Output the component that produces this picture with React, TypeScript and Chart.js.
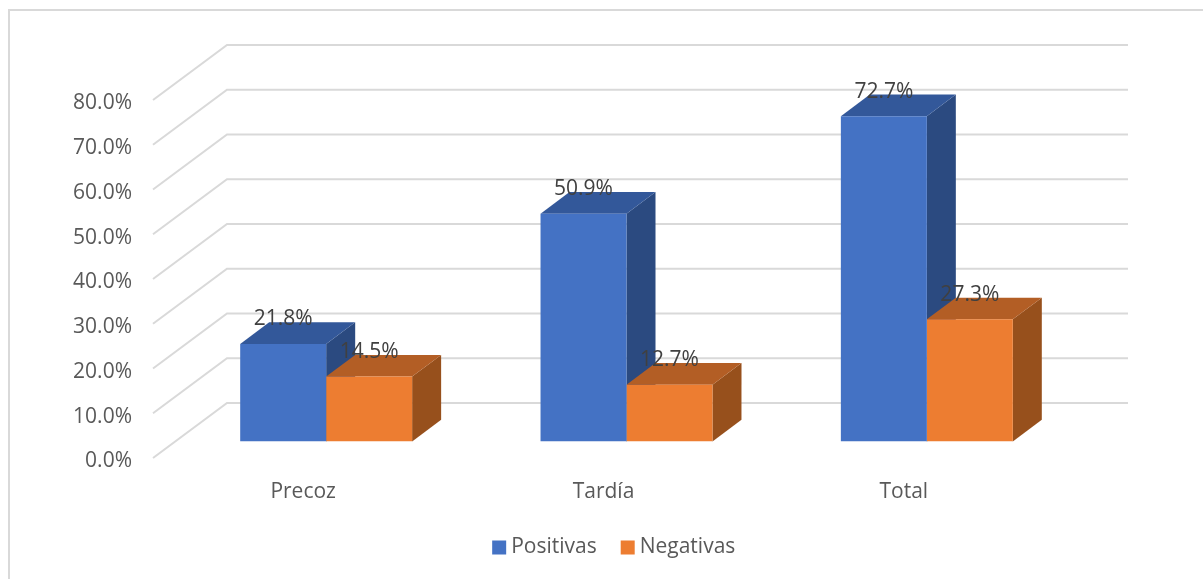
import React, { useEffect, useRef } from "react";
import { Chart, registerables } from "chart.js";

Chart.register(...registerables);

const categories = ["Precoz", "Tardía", "Total"];
const positivas = [21.8, 50.9, 72.7];
const negativas = [14.5, 12.7, 27.3];
const seriesNames = ["Positivas", "Negativas"];

const FONT = "'Open Sans', sans-serif";
const FONT_SIZE = 21;
const GRID = "#D9D9D9";
const faces = [
  { front: "#4472C4", side: "#2B4A80", top: "#33589A" },
  { front: "#ED7D31", side: "#97501C", top: "#B35E25" },
];

// 3D offsets
const WALL_DX = 51, WALL_DY = -38.5, FLOOR_DX = -23, FLOOR_DY = 16.5;
const BAR_DX = 29, BAR_DY = -21.7;
const LEGEND_SHIFT = 48;

const threeD = {
  id: "threeD",
  afterLayout(chart: any) {
    chart.legend.left += LEGEND_SHIFT;
    chart.legend.right += LEGEND_SHIFT;
  },
  beforeDraw(chart: any) {
    const { ctx, width, height } = chart;
    ctx.save();
    ctx.fillStyle = "#fff";
    ctx.fillRect(0, 0, width, height);
    ctx.strokeStyle = GRID;
    ctx.lineWidth = 2;
    ctx.strokeRect(9, 10, width + 20, height + 20);
    ctx.restore();
  },
  beforeDatasetsDraw(chart: any) {
    const { ctx, chartArea, scales } = chart;
    const y = scales.y;
    ctx.save();
    ctx.strokeStyle = GRID;
    ctx.lineWidth = 2;
    ctx.lineJoin = "miter";
    for (const t of y.ticks) {
      const p = y.getPixelForValue(t.value);
      ctx.beginPath();
      ctx.moveTo(chartArea.left + FLOOR_DX, p + FLOOR_DY);
      ctx.lineTo(chartArea.left + WALL_DX, p + WALL_DY);
      ctx.lineTo(chartArea.right + WALL_DX, p + WALL_DY);
      ctx.stroke();
    }
    categories.forEach((_, i) => {
      chart.data.datasets.forEach((_d: any, ds: number) => {
        const b = chart.getDatasetMeta(ds).data[i];
        const hw = b.width / 2;
        const l = b.x - hw, r = b.x + hw, top = b.y, bot = b.base;
        ctx.fillStyle = faces[ds].side;
        ctx.beginPath();
        ctx.moveTo(r, top);
        ctx.lineTo(r + BAR_DX, top + BAR_DY);
        ctx.lineTo(r + BAR_DX, bot + BAR_DY);
        ctx.lineTo(r, bot);
        ctx.closePath();
        ctx.fill();
        ctx.fillStyle = faces[ds].top;
        ctx.beginPath();
        ctx.moveTo(l, top);
        ctx.lineTo(l + BAR_DX, top + BAR_DY);
        ctx.lineTo(r + BAR_DX, top + BAR_DY);
        ctx.lineTo(r, top);
        ctx.closePath();
        ctx.fill();
      });
    });
    ctx.restore();
  },
  afterDatasetsDraw(chart: any) {
    const { ctx } = chart;
    ctx.save();
    ctx.fillStyle = "#404040";
    ctx.font = `${FONT_SIZE}px ${FONT}`;
    ctx.textAlign = "center";
    ctx.textBaseline = "middle";
    chart.data.datasets.forEach((d: any, ds: number) => {
      chart.getDatasetMeta(ds).data.forEach((b: any, i: number) => {
        ctx.fillText(d.data[i].toFixed(1) + "%", b.x, b.y - 24.5);
      });
    });
    ctx.restore();
  },
};

export default function App() {
  const ref = useRef<HTMLCanvasElement>(null);
  useEffect(() => {
    const chart = new Chart(ref.current as HTMLCanvasElement, {
      type: "bar",
      data: {
        labels: categories,
        datasets: [
          { label: seriesNames[0], data: positivas, backgroundColor: faces[0].front, borderWidth: 0, barPercentage: 1, categoryPercentage: 0.5725 },
          { label: seriesNames[1], data: negativas, backgroundColor: faces[1].front, borderWidth: 0, barPercentage: 1, categoryPercentage: 0.5725 },
        ],
      },
      options: {
        responsive: false,
        animation: false,
        layout: { padding: { top: 83.5, left: 60, right: 126, bottom: 11 } },
        plugins: {
          tooltip: { enabled: false },
          legend: {
            position: "bottom",
            labels: {
              usePointStyle: true,
              pointStyle: "rect",
              boxWidth: 3,
              boxHeight: 14,
              padding: 29.5,
              color: "#595959",
              font: { family: FONT, size: FONT_SIZE },
            },
          },
        },
        scales: {
          x: {
            grid: { display: false },
            border: { display: false },
            ticks: { color: "#595959", font: { family: FONT, size: FONT_SIZE }, labelOffset: -23, padding: 29.5, maxRotation: 0 },
            afterFit: (s: any) => { s.height = 66; },
          },
          y: {
            min: 0,
            max: 80,
            grid: { display: false, drawTicks: false },
            border: { display: false },
            ticks: {
              stepSize: 10,
              color: "#595959",
              font: { family: FONT, size: FONT_SIZE },
              labelOffset: 20,
              padding: 44,
              callback: (v: any) => Number(v).toFixed(1) + "%",
            },
            afterFit: (s: any) => { s.width = 116; },
          },
        },
      },
      plugins: [threeD],
    } as any);
    return () => chart.destroy();
  }, []);
  return (
    <div style={{ position: "absolute", left: 0, top: 0, width: 1203, height: 579, overflow: "hidden", background: "#fff" }}>
      <canvas ref={ref} width={1203} height={579} style={{ display: "block" }} />
    </div>
  );
}
